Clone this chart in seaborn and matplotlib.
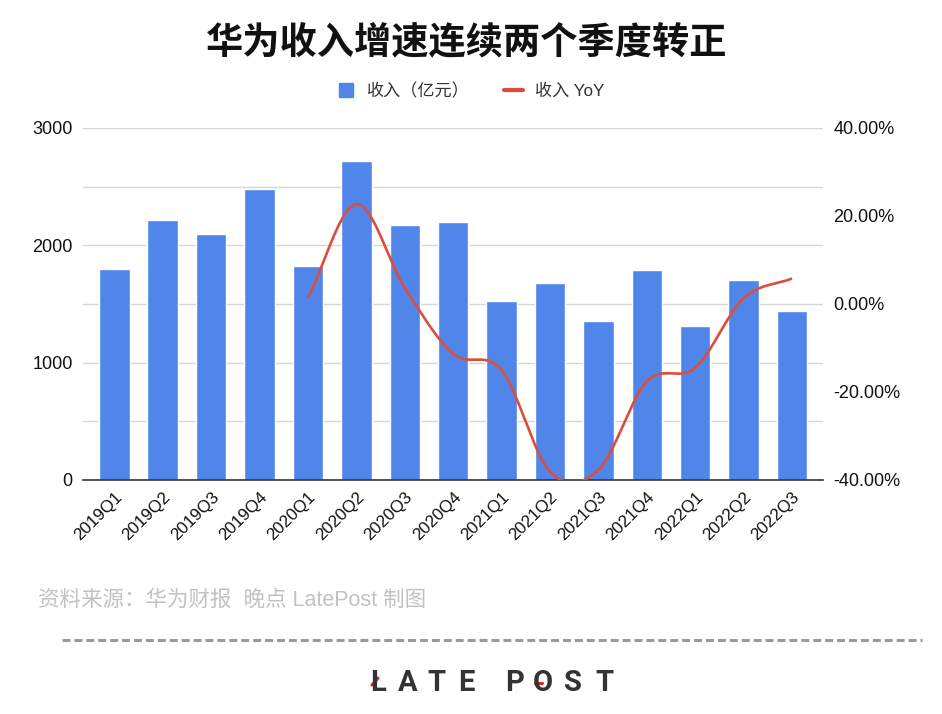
import numpy as np
import pandas as pd
import matplotlib
matplotlib.use("Agg")
import matplotlib.pyplot as plt
import seaborn as sns
from matplotlib.lines import Line2D
from matplotlib.ticker import FuncFormatter

# 季度数据
quarters = ["2019Q1", "2019Q2", "2019Q3", "2019Q4",
            "2020Q1", "2020Q2", "2020Q3", "2020Q4",
            "2021Q1", "2021Q2", "2021Q3", "2021Q4",
            "2022Q1", "2022Q2", "2022Q3"]
revenue = [1797, 2216, 2095, 2480, 1822, 2718, 2173, 2201,
           1522, 1682, 1354, 1790, 1310, 1706, 1442]
yoy_quarters = quarters[4:]
yoy = [1.4, 22.7, 3.7, -11.3, -15.0, -38.1, -37.7, -17.6, -14.5, 1.3, 5.8]

BAR_COLOR = "#5086EA"
LINE_COLOR = "#DC4E3C"
W, H = 942, 714


def fx(px):
    return px / W


def fy(py):
    return 1 - py / H


def smooth_curve(xv, yv, n=40):
    """Catmull-Rom 风格的平滑曲线（与表格工具的 smooth line 一致）。"""
    x = np.asarray(xv, float)
    y = np.asarray(yv, float)
    xp = np.r_[2 * x[0] - x[1], x, 2 * x[-1] - x[-2]]
    yp = np.r_[2 * y[0] - y[1], y, 2 * y[-1] - y[-2]]
    t = np.linspace(0, 1, n)[:, None]
    xs, ys = [], []
    for i in range(1, len(xp) - 2):
        p0 = np.array([xp[i], yp[i]])
        p3 = np.array([xp[i + 1], yp[i + 1]])
        c1 = p0 + (p3 - np.array([xp[i - 1], yp[i - 1]])) / 6
        c2 = p3 - (np.array([xp[i + 2], yp[i + 2]]) - p0) / 6
        pts = ((1 - t) ** 3) * p0 + 3 * ((1 - t) ** 2) * t * c1 + 3 * (1 - t) * t ** 2 * c2 + t ** 3 * p3
        xs.append(pts[:, 0])
        ys.append(pts[:, 1])
    return np.concatenate(xs), np.concatenate(ys)


sns.set_theme(style="white")
plt.rcParams["font.family"] = ["Liberation Sans", "Noto Sans CJK SC"]

df = pd.DataFrame({"quarter": quarters, "revenue": revenue})

fig = plt.figure(figsize=(W / 100, H / 100), dpi=100)
ax = fig.add_axes([fx(83), fy(480), fx(823) - fx(83), fy(128) - fy(480)])

sns.barplot(data=df, x="quarter", y="revenue", color=BAR_COLOR,
            saturation=1, width=0.63, ax=ax, zorder=2)
ax.set_xlim(-0.647, 14.64)
ax.set_ylim(0, 3000)
ax.set_yticks([0, 1000, 2000, 3000])
ax.set_yticks([500, 1500, 2500], minor=True)
ax.grid(axis="y", which="both", color="#d6d6d6", linewidth=1)
ax.set_axisbelow(True)
ax.set_xlabel("")
ax.set_ylabel("")
for side in ["top", "right", "left"]:
    ax.spines[side].set_visible(False)
ax.spines["bottom"].set_color("#333333")
ax.spines["bottom"].set_linewidth(1.2)
ax.tick_params(axis="y", which="both", length=0, pad=7.5, labelsize=13, labelcolor="#111111")
ax.tick_params(axis="x", length=0, pad=7, labelsize=12.3, labelcolor="#111111")
plt.setp(ax.get_xticklabels(), rotation=45, ha="right", rotation_mode="anchor")

# 右轴：同比
ax2 = ax.twinx()
xpos = [quarters.index(q) for q in yoy_quarters]
sx, sy = smooth_curve(xpos, yoy)
ax2.plot(sx, sy, color=LINE_COLOR, linewidth=1.9, solid_capstyle="butt", zorder=3)
ax2.set_ylim(-40, 40)
ax2.set_yticks([-40, -20, 0, 20, 40])
ax2.yaxis.set_major_formatter(FuncFormatter(lambda v, _: f"{v:.2f}%"))
ax2.tick_params(axis="y", length=0, pad=7.5, labelsize=13, labelcolor="#111111")
ax2.grid(False)
for side in ax2.spines:
    ax2.spines[side].set_visible(False)

# 标题
fig.text(fx(467), fy(44), "华为收入增速连续两个季度转正", ha="center", va="center",
         fontsize=26.8, fontweight="bold", family=["Noto Sans CJK SC"], color="#111111")

# 图例
handles = [
    Line2D([], [], marker="s", linestyle="", markersize=10, color=BAR_COLOR),
    Line2D([], [], color=LINE_COLOR, linewidth=3),
]
fig.legend(handles, ["收入（亿元）", "收入 YoY"], loc="center",
           bbox_to_anchor=(fx(470), fy(91)), ncol=2, frameon=False,
           fontsize=12.3, handlelength=1.1, handletextpad=0.7, columnspacing=2.0,
           labelcolor="#333333")

# 资料来源
fig.text(fx(38), fy(600), "资料来源：华为财报  晚点 LatePost 制图", ha="left", va="center",
         fontsize=15.5, color="#c2c2c2")

# 虚线分隔
fig.add_artist(Line2D([fx(62), fx(922)], [fy(640), fy(640)], transform=fig.transFigure,
                      color="#9a9a9a", linewidth=2.2, linestyle=(0, (2.6, 1.3))))

# LATE POST 标志
for ch, cx in zip("LATEPOST", [378, 408, 436, 466, 515, 543, 573, 604]):
    fig.text(fx(cx), fy(683), ch, ha="center", va="center", fontsize=21,
             fontweight="bold", family=["Roboto"], color="#333333")
fig.add_artist(Line2D([fx(372), fx(378)], [fy(685), fy(678)], transform=fig.transFigure,
                      color="#e8201a", linewidth=2.2))
fig.add_artist(Line2D([fx(535), fx(542)], [fy(682.5), fy(682.5)], transform=fig.transFigure,
                      color="#e8201a", linewidth=2.2))

fig.savefig("out.png", dpi=100)
